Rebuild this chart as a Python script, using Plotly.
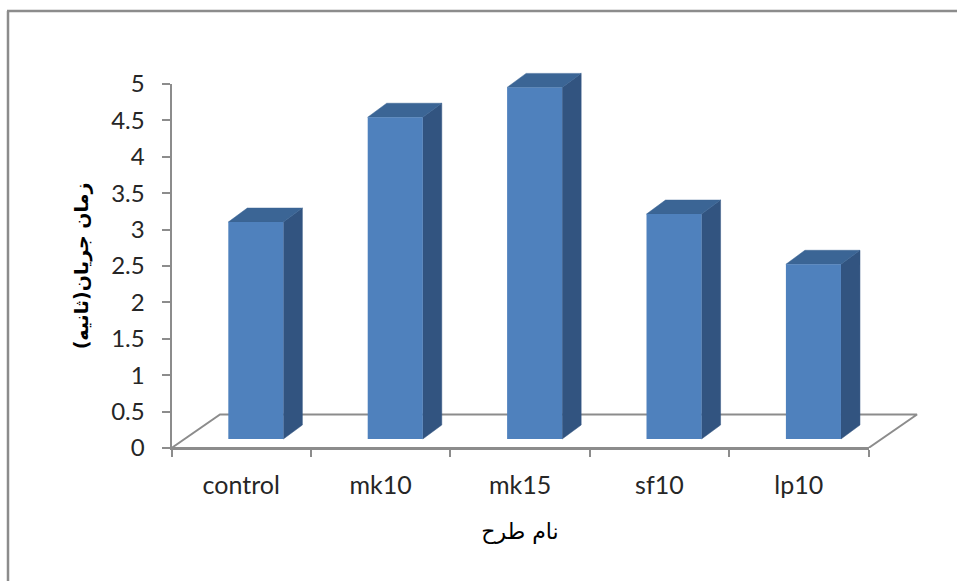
import plotly.graph_objects as go

categories = ["control", "mk10", "mk15", "sf10", "lp10"]
values = [2.98, 4.42, 4.83, 3.09, 2.40]
y_ticks = [0, 0.5, 1, 1.5, 2, 2.5, 3, 3.5, 4, 4.5, 5]
y_title = "زمان جریان(ثانیه)"
x_title = "نام طرح"

W, H = 957, 581
AX_L, AX_R, AX_T, AX_B = 171.5, 868.5, 84, 448
PX_X = (AX_R - AX_L) / len(categories)
PX_Y = (AX_B - AX_T) / 5
DRAW_R, DRAW_T = 957, 40

BAR_W = 0.395
BAR_C = 0.605
BASE = 9 / PX_Y
DX, DY = 19 / PX_X, 14 / PX_Y
FLOOR_DX, FLOOR_DY = 48.5 / PX_X, 33.5 / PX_Y
GRAY = "#8c8c8c"
TXT = "#262626"
FONT = "Lato, Carlito, sans-serif"

fig = go.Figure()

# Floor of the 3-D chart on the wide, hidden subplot
n = len(categories)
fig.add_trace(go.Scatter(
    x=[0, n, n + FLOOR_DX, FLOOR_DX, 0], y=[0, 0, FLOOR_DY, FLOOR_DY, 0],
    mode="lines", line=dict(color=GRAY, width=2), hoverinfo="skip",
    xaxis="x", yaxis="y", showlegend=False))

# Side and top faces derived from the values
for i, v in enumerate(values):
    x0 = i + BAR_C - BAR_W / 2
    x1 = x0 + BAR_W
    top = BASE + v
    fig.add_trace(go.Scatter(
        x=[x1, x1 + DX, x1 + DX, x1, x1], y=[BASE, BASE + DY, top + DY, top, BASE],
        mode="lines", fill="toself", fillcolor="#325480", line=dict(color="#325480", width=0.5),
        hoverinfo="skip", xaxis="x", yaxis="y", showlegend=False))
    fig.add_trace(go.Scatter(
        x=[x0, x1, x1 + DX, x0 + DX, x0], y=[top, top, top + DY, top + DY, top],
        mode="lines", fill="toself", fillcolor="#3b6595", line=dict(color="#3b6595", width=0.5),
        hoverinfo="skip", xaxis="x", yaxis="y", showlegend=False))

# Front faces and the visible axes
fig.add_trace(go.Bar(
    x=[i + BAR_C for i in range(n)], y=values, base=BASE, width=BAR_W,
    marker=dict(color="#4f81bd", line=dict(width=0)),
    customdata=categories, hovertemplate="%{customdata}: %{y}<extra></extra>",
    xaxis="x2", yaxis="y2", showlegend=False))

fig.update_layout(
    width=W, height=H, margin=dict(l=0, r=0, t=0, b=0),
    paper_bgcolor="white", plot_bgcolor="rgba(0,0,0,0)",
    font=dict(family=FONT, color=TXT, size=24),
    xaxis=dict(domain=[AX_L / W, DRAW_R / W], range=[0, (DRAW_R - AX_L) / PX_X],
               visible=False, fixedrange=True, automargin=False),
    yaxis=dict(domain=[1 - AX_B / H, 1 - DRAW_T / H], range=[0, (AX_B - DRAW_T) / PX_Y],
               visible=False, fixedrange=True, automargin=False),
    xaxis2=dict(
        domain=[AX_L / W, AX_R / W], range=[0, n], anchor="y2", automargin=False,
        tickmode="array", tickvals=[i + 0.5 for i in range(n)], ticktext=categories,
        ticks="", ticklabelstandoff=14, showgrid=False, zeroline=False,
        showline=True, linecolor=GRAY, linewidth=2,
        tickfont=dict(family=FONT, size=25, color=TXT),
        minor=dict(tickmode="array", tickvals=list(range(n + 1)), ticks="outside",
                   ticklen=7, tickwidth=2, tickcolor=GRAY, showgrid=False),
        title=dict(text=x_title, standoff=26,
                   font=dict(family="DejaVu Sans", size=22, color="#000000")),
    ),
    yaxis2=dict(
        domain=[1 - AX_B / H, 1 - AX_T / H], range=[0, 5], anchor="x2", automargin=False,
        tickmode="array", tickvals=y_ticks, ticktext=[f"{t:g}" for t in y_ticks],
        ticks="outside", ticklen=8, tickwidth=2, tickcolor=GRAY, ticklabelstandoff=12,
        showgrid=False, zeroline=False, showline=True, linecolor=GRAY, linewidth=2,
        tickfont=dict(family=FONT, size=24, color=TXT),
        title=dict(text=f"<b>{y_title}</b>", standoff=18,
                   font=dict(family="DejaVu Sans", size=19, color="#000000")),
    ),
    shapes=[
        dict(type="line", xref="paper", yref="paper", x0=8 / W, x1=8 / W, y0=0, y1=1 - 11 / H,
             line=dict(color=GRAY, width=2.5)),
        dict(type="line", xref="paper", yref="paper", x0=7 / W, x1=1, y0=1 - 11 / H, y1=1 - 11 / H,
             line=dict(color=GRAY, width=2.5)),
    ],
)

fig.write_html("out.html", config=dict(displayModeBar=False),
               post_script="document.body.style.margin='0';document.body.style.overflow='hidden';")
